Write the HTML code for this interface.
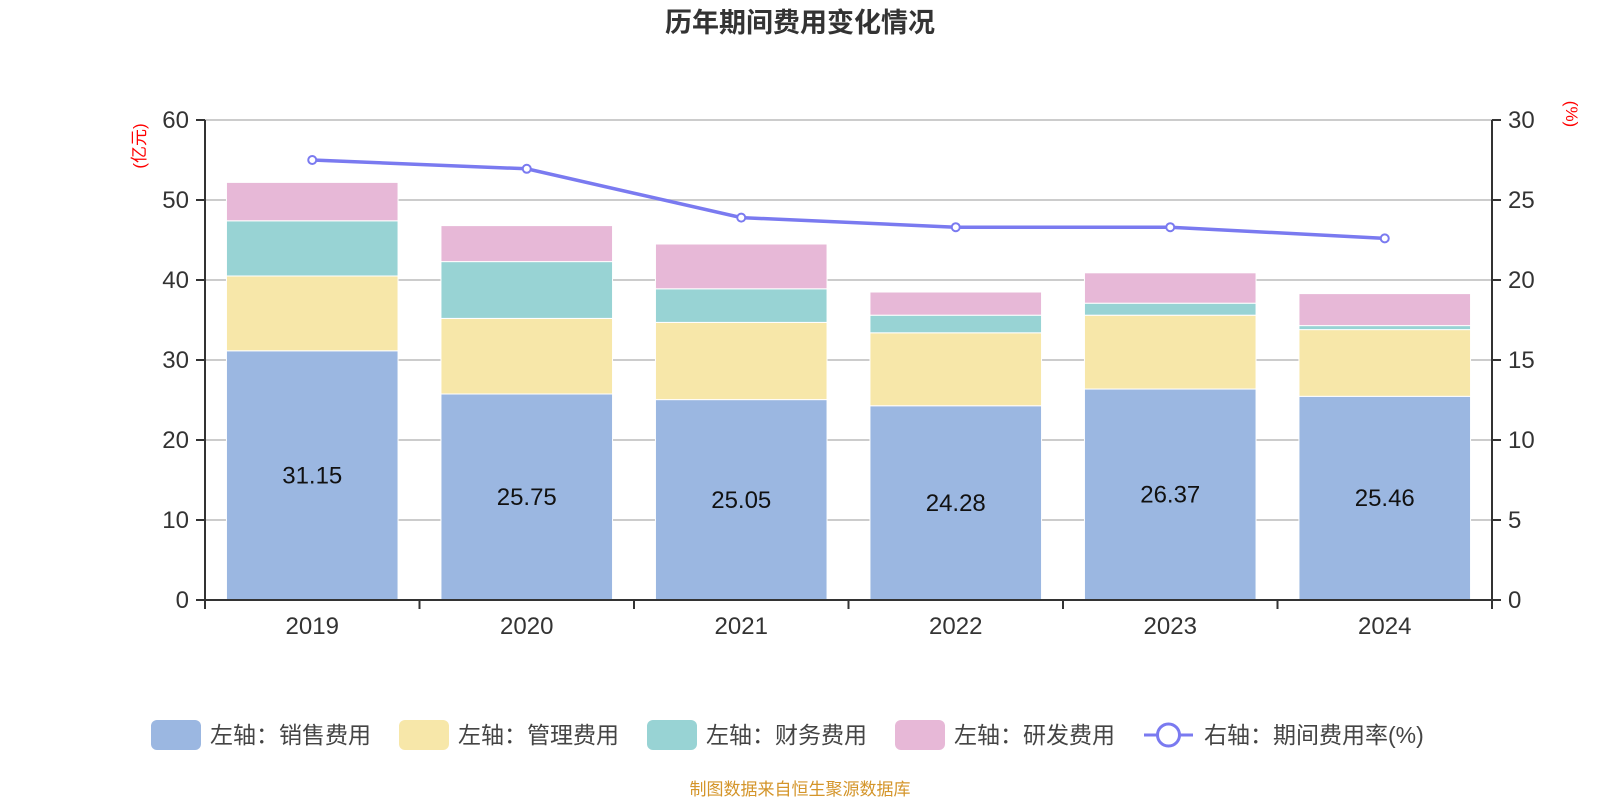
<!DOCTYPE html>
<html><head><meta charset="utf-8">
<style>
html,body{margin:0;padding:0;background:#fff;}
svg{display:block;font-family:"Liberation Sans","Noto Sans CJK SC",sans-serif;}
</style></head>
<body>
<svg id="chart" width="1600" height="800" viewBox="0 0 1600 800">
<text x="800" y="32" text-anchor="middle" font-size="27" font-weight="bold" fill="#333">历年期间费用变化情况</text>
<text transform="translate(145,146) rotate(-90)" text-anchor="middle" font-size="17" fill="#f00">(亿元)</text>
<text transform="translate(1566,114) rotate(90)" text-anchor="middle" font-size="17" fill="#f00">(%)</text>
<g id="grid"></g><g id="bars"></g><g id="axes"></g><g id="line"></g>
<g id="legend">
<rect x="151" y="720" width="50" height="30" rx="6" fill="#9bb7e1"/>
<text x="210" y="743" font-size="23" fill="#444">左轴：销售费用</text>
<rect x="399" y="720" width="50" height="30" rx="6" fill="#f7e7a9"/>
<text x="458" y="743" font-size="23" fill="#444">左轴：管理费用</text>
<rect x="647" y="720" width="50" height="30" rx="6" fill="#98d3d4"/>
<text x="706" y="743" font-size="23" fill="#444">左轴：财务费用</text>
<rect x="895" y="720" width="50" height="30" rx="6" fill="#e7b8d7"/>
<text x="954" y="743" font-size="23" fill="#444">左轴：研发费用</text>
<line x1="1144" y1="735" x2="1193" y2="735" stroke="#7a7af0" stroke-width="3"/>
<circle cx="1168.5" cy="735" r="11" fill="#fff" stroke="#7a7af0" stroke-width="3"/>
<text x="1204" y="743" font-size="23" fill="#444">右轴：期间费用率(%)</text>
</g>
<text x="800" y="795" text-anchor="middle" font-size="17" fill="#d4952a">制图数据来自恒生聚源数据库</text>
</svg>
<script>
const categories=["2019","2020","2021","2022","2023","2024"];
const sales=[31.15,25.75,25.05,24.28,26.37,25.46];
const admin=[9.35,9.45,9.65,9.12,9.23,8.34];
const finance=[6.9,7.1,4.2,2.2,1.5,0.5];
const rd=[4.8,4.5,5.6,2.9,3.8,4.0];
const rate=[27.5,26.95,23.9,23.3,23.3,22.6];
const leftTicks=[0,10,20,30,40,50,60];
const rightTicks=[0,5,10,15,20,25,30];

const NS="http://www.w3.org/2000/svg";
const L=205,R=1492,T=120,B=600;
const cw=(R-L)/categories.length;
const yL=v=>B-(v/60)*(B-T);
const yR=v=>B-(v/30)*(B-T);
const xC=i=>L+cw*(i+0.5);
function mk(tag,attrs,parent){const e=document.createElementNS(NS,tag);for(const k in attrs)e.setAttribute(k,attrs[k]);document.getElementById(parent).appendChild(e);return e;}

leftTicks.forEach((t,i)=>{
  if(t>0){const g=mk('line',{x1:L,x2:R,y1:yL(t),y2:yL(t),stroke:'#ccc','stroke-width':2},'grid');
  
  }
  const tk=mk('line',{x1:L-9,x2:L,y1:yL(t),y2:yL(t),stroke:'#333','stroke-width':2},'axes');
  
  
  const lb=mk('text',{x:L-16,y:yL(t)+8,'text-anchor':'end','font-size':24,fill:'#333'},'axes');
  lb.textContent=t;
  
  
});
rightTicks.forEach(t=>{
  const tk=mk('line',{x1:R,x2:R+9,y1:yR(t),y2:yR(t),stroke:'#333','stroke-width':2},'axes');
  
  
  const lb=mk('text',{x:R+16,y:yR(t)+8,'font-size':24,fill:'#333'},'axes');
  lb.textContent=t;
  
  
});
const series=[[sales,'#9bb7e1','sales'],[admin,'#f7e7a9','admin'],[finance,'#98d3d4','finance'],[rd,'#e7b8d7','rd']];
const bw=cw*0.8;
categories.forEach((c,i)=>{
  let acc=0;
  series.forEach(([arr,col,nm])=>{
    const y0=yL(acc),y1=yL(acc+arr[i]);
    const r=mk('rect',{x:xC(i)-bw/2,y:y1,width:bw,height:y0-y1,fill:col,stroke:'#fff','stroke-width':1},'bars');
    
    
    acc+=arr[i];
  });
  const vl=mk('text',{x:xC(i),y:(yL(0)+yL(sales[i]))/2+8,'text-anchor':'middle','font-size':24,fill:'#111'},'bars');
  vl.textContent=sales[i].toFixed(2);
  
  
  const cl=mk('text',{x:xC(i),y:634,'text-anchor':'middle','font-size':24,fill:'#333'},'axes');
  cl.textContent=c;
  
  
});
for(let i=0;i<=categories.length;i++){
  const tk=mk('line',{x1:L+cw*i,x2:L+cw*i,y1:B,y2:B+9,stroke:'#333','stroke-width':2},'axes');
  
  
}
const ax=mk('path',{d:`M${L},${T} V${B} H${R} V${T}`,fill:'none',stroke:'#333','stroke-width':2},'axes');


const pl=mk('polyline',{points:rate.map((v,i)=>xC(i)+','+yR(v)).join(' '),fill:'none',stroke:'#7a7af0','stroke-width':3.5},'line');


rate.forEach((v,i)=>{
  const p=mk('circle',{cx:xC(i),cy:yR(v),r:4,fill:'#fff',stroke:'#7a7af0','stroke-width':2},'line');
  
  
});
</script>
</body></html>
